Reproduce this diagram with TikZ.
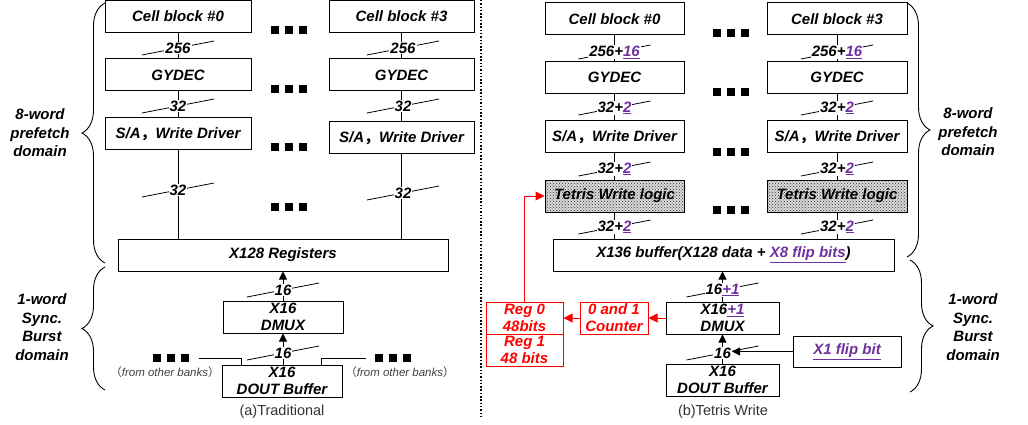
\documentclass[tikz,border=0pt]{standalone}
\usepackage{fontspec}
\setmainfont{Liberation Sans}
\newfontfamily\cjk{Noto Sans CJK SC}
\usetikzlibrary{arrows.meta,decorations.pathreplacing,patterns}

\definecolor{flipc}{HTML}{7030A0}
\definecolor{regc}{HTML}{FF0000}
\newcommand\lblfont{\fontsize{15}{17}\selectfont\bfseries\itshape}
\newcommand\flip[1]{\textcolor{flipc}{\underline{#1}}}
\newcommand\sqrow{\rule{8pt}{8pt}\hspace{6pt}\rule{8pt}{8pt}\hspace{6pt}\rule{8pt}{8pt}}
% bus width mark: slash first, label on top
\newcommand\busmark[3]{\draw[slash] (#2) +(-36,7) -- +(36,-7); \node[buslbl] (#1) at (#2) {#3};}

\begin{document}
\begin{tikzpicture}[x=1pt,y=-1pt,
  box/.style={draw,line width=1pt,minimum height=32pt,inner sep=0pt,align=center,font=\lblfont},
  twbox/.style={box,preaction={fill=gray!30},pattern=crosshatch dots,pattern color=black!80},
  redbox/.style={box,draw=regc,text=regc},
  conn/.style={draw,line width=0.9pt},
  arr/.style={conn,-{Triangle[length=8pt,width=8pt]}},
  redarr/.style={draw=regc,line width=1pt,-{Triangle[length=9pt,width=9pt]}},
  slash/.style={line width=0.8pt},
  buslbl/.style={fill=white,inner sep=1pt,font=\lblfont},
  dots/.style={inner sep=0pt},
  brc/.style={decorate,decoration={brace,amplitude=23pt},line width=0.9pt},
  dom/.style={align=center,font=\fontsize{15}{18.5}\selectfont\bfseries\itshape},
  bank/.style={font=\fontsize{11.5}{13}\selectfont\itshape,text=black!75},
  capt/.style={font=\fontsize{14.5}{17}\selectfont,text=black!80}]
\useasboundingbox (0,0) rectangle (1028,425);

% (a) traditional
\node[box,minimum width=146pt] (cellA0) at (178,16.5) {Cell block \#0};
\node[box,minimum width=145pt] (cellA3) at (401.5,16.5) {Cell block \#3};
\node[box,minimum width=146pt] (gydA0) at (178,75) {GYDEC};
\node[box,minimum width=145pt] (gydA3) at (401.5,75) {GYDEC};
\node[box,minimum width=146pt] (saA0) at (178,134) {S/A{\cjk ，}Write Driver};
\node[box,minimum width=145pt] (saA3) at (401.5,138) {S/A{\cjk ，}Write Driver};
\node[box,minimum width=330pt] (regA) at (283,255) {X128 Registers};
\node[box,minimum width=120pt] (dmuxA) at (283,317) {X16\\DMUX};
\node[box,minimum width=120pt] (doutA) at (282,381) {X16\\DOUT Buffer};

\draw[conn] (cellA0) -- (gydA0);
\draw[conn] (cellA3) -- (gydA3);
\draw[conn] (gydA0) -- (saA0);
\draw[conn] (gydA3) -- (saA3);
\draw[conn] (saA0) -- (saA0 |- regA.north);
\draw[conn] (saA3) -- (saA3 |- regA.north);
\draw[arr] (dmuxA) -- (dmuxA |- regA.south);
\draw[arr] (doutA.north -| dmuxA) -- (dmuxA.south);

\busmark{wA0}{178,48}{256}
\busmark{wA3}{403,48}{256}
\busmark{gA0}{178,106}{32}
\busmark{gA3}{403,106}{32}
\busmark{sA0}{178,190}{32}
\busmark{sA3}{403,193}{32}
\busmark{mA}{283,290}{16}
\busmark{oA}{283,353}{16}

\foreach \y in {30,89,147,207}
  \node[dots] (dA\y) at (288.5,\y) {\sqrow};
\node[dots] (dotsL) at (170.5,358) {\sqrow};
\node[dots] (dotsR) at (393,358) {\sqrow};
\draw[conn] ([xshift=10pt]dotsL.east) -| ([xshift=20pt]doutA.north west);
\draw[conn] ([xshift=-9pt]dotsR.west) -| ([xshift=-21pt]doutA.north east);
\node[bank] (obA1) at (165,372) {{\cjk （}from other banks{\cjk ）}};
\node[bank] (obA2) at (400,372) {{\cjk （}from other banks{\cjk ）}};

\draw[brc] (105,263) -- (105,3);
\draw[brc] (105,390) -- (105,267);
\node[dom] (domA1) at (40,133) {8-word\\prefetch\\domain};
\node[dom] (domA2) at (42,327) {1-word\\Sync.\\Burst\\domain};
\node[capt] (capA) at (282,412) {(a)Traditional};

\draw[line width=1.5pt,dash pattern=on 1.5pt off 1.8pt] (481,0) -- (481,416);

% (b) tetris write
\node[box,minimum width=139pt] (cellB0) at (614.5,19) {Cell block \#0};
\node[box,minimum width=140pt] (cellB3) at (837,19) {Cell block \#3};
\node[box,minimum width=139pt] (gydB0) at (614.5,77.5) {GYDEC};
\node[box,minimum width=140pt] (gydB3) at (837,77.5) {GYDEC};
\node[box,minimum width=139pt] (saB0) at (614.5,137) {S/A{\cjk ，}Write Driver};
\node[box,minimum width=140pt] (saB3) at (837,137) {S/A{\cjk ，}Write Driver};
\node[twbox,minimum width=139pt] (twB0) at (614.5,196) {Tetris Write logic};
\node[twbox,minimum width=140pt] (twB3) at (837,196) {Tetris Write logic};
\node[box,minimum width=341pt] (bufB) at (723.5,255) {X136 buffer(X128 data + \flip{X8 flip bits})};
\node[box,minimum width=113pt] (dmuxB) at (722.5,318) {X16\flip{+1}\\DMUX};
\node[box,minimum width=113pt] (doutB) at (722.5,380) {X16\\DOUT Buffer};
\node[box,minimum width=108pt,minimum height=31pt] (flipB) at (847,351.5) {\flip{X1 flip bit}};
\node[redbox,minimum width=68pt] (cntB) at (614,318) {0 and 1\\Counter};
\node[redbox,minimum width=77pt] (reg0B) at (524.5,318) {Reg 0\\48bits};
\node[redbox,minimum width=77pt] (reg1B) at (524.5,350) {Reg 1\\48 bits};

\draw[conn] (cellB0) -- (gydB0);
\draw[conn] (cellB3) -- (gydB3);
\draw[conn] (gydB0) -- (saB0);
\draw[conn] (gydB3) -- (saB3);
\draw[conn] (saB0) -- (twB0);
\draw[conn] (saB3) -- (twB3);
\draw[conn] (twB0) -- (twB0 |- bufB.north);
\draw[conn] (twB3) -- (twB3 |- bufB.north);
\draw[arr] (dmuxB) -- (dmuxB |- bufB.south);
\draw[arr] (doutB) -- (dmuxB);
\draw[redarr] (dmuxB) -- (cntB);
\draw[redarr] (cntB) -- (reg0B);
\draw[redarr] (reg0B.north) |- (twB0.west);

\busmark{wB0}{614.5,52}{256+\flip{16}}
\busmark{wB3}{837,52}{256+\flip{16}}
\busmark{gB0}{614.5,108}{32+\flip{2}}
\busmark{gB3}{837,108}{32+\flip{2}}
\busmark{sB0}{614.5,169}{32+\flip{2}}
\busmark{sB3}{837,169}{32+\flip{2}}
\busmark{tB0}{614.5,227}{32+\flip{2}}
\busmark{tB3}{837,227}{32+\flip{2}}
\busmark{mB}{722.5,290}{16\flip{+1}}
\busmark{oB}{722.5,353}{16}
\draw[arr] (flipB.west) -- (flipB.west -| oB.east);

\foreach \y in {33,92,152,210}
  \node[dots] (dB\y) at (730.5,\y) {\sqrow};

\draw[brc] (907,3) -- (907,257);
\draw[brc] (910,260) -- (910,392);
\node[dom] (domB1) at (968,132) {8-word\\prefetch\\domain};
\node[dom] (domB2) at (973,327) {1-word\\Sync.\\Burst\\domain};
\node[capt] (capB) at (723,412) {(b)Tetris Write};
\end{tikzpicture}
\end{document}
